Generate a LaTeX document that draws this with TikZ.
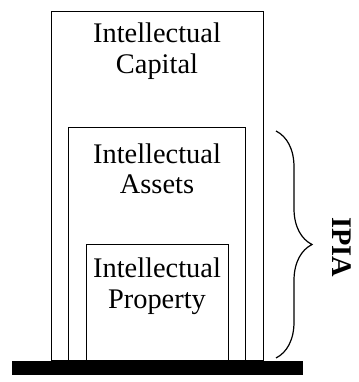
\documentclass[tikz,border=0pt]{standalone}
\usepackage{fontspec}
\setmainfont{Liberation Serif}
\usetikzlibrary{positioning,decorations.pathreplacing}

\begin{document}
\begin{tikzpicture}[
    x=1pt, y=1pt,
    layer/.style={rectangle, draw=black, line width=1.4pt, anchor=south west, inner sep=0pt},
    label/.style={align=center, font=\fontsize{28.4}{30.5}\selectfont, inner sep=0pt}
]
    \useasboundingbox (0,0) rectangle (358,382);
    % nested boxes
    \node[layer, minimum width=212, minimum height=349] (capital) at (51,21) {};
    \node[layer, minimum width=177, minimum height=233] (assets) at (68,21) {};
    \node[layer, minimum width=142, minimum height=116] (property) at (86,21) {};
    \node[label] (capitaltext) at (157,331) {Intellectual\\Capital};
    \node[label] (assetstext) at (157,213) {Intellectual\\Assets};
    \node[label] (propertytext) at (157,96) {Intellectual\\Property};
    % ground
    \node[rectangle, fill=black, minimum width=291, minimum height=14, anchor=south west, inner sep=0pt] (ground) at (12,7) {};
    % brace
    \coordinate (bracetop) at (276,251);
    \coordinate (bracebottom) at (276,24);
    \draw[line width=1.2pt, decorate, decoration={brace, amplitude=36}] (bracetop) -- (bracebottom);
    \node[rotate=-90, font=\fontsize{28.4}{30}\selectfont\bfseries] (ipia) at (342,135) {IPIA};
\end{tikzpicture}
\end{document}
